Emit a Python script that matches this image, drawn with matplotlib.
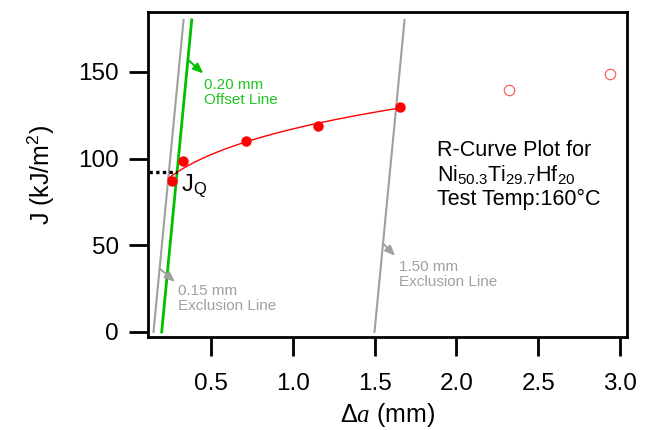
import numpy as np
import matplotlib
matplotlib.use("Agg")
import matplotlib.pyplot as plt

plt.rcParams['font.family'] = ['Liberation Sans', 'DejaVu Sans']
plt.rcParams['mathtext.fontset'] = 'custom'
plt.rcParams['mathtext.rm'] = 'Liberation Sans'
plt.rcParams['mathtext.it'] = 'Liberation Serif:italic'
plt.rcParams['mathtext.default'] = 'regular'

# R-curve data (crack extension in mm, J in kJ/m^2)
da_valid = [0.265, 0.332, 0.715, 1.153, 1.656]
J_valid = [87.0, 98.5, 110.0, 118.9, 129.5]
da_excl = [2.32, 2.94]
J_excl = [139.6, 148.7]

# construction lines: slope M (blunting), offsets in mm
M_blunt = 980.0
offset_excl_lo = 0.15
offset_line = 0.20
offset_excl_hi = 1.50
J_line_top = 180.0

# power-law fit J = C * da^n on the valid points
n_fit, lnC = np.polyfit(np.log(da_valid), np.log(J_valid), 1)
C_fit = np.exp(lnC)

def power_fit(x):
    return C_fit * x ** n_fit

def cross(offset):
    # intersection of the fit with a blunting line at the given offset
    lo, hi = offset + 1e-4, 3.0
    for _ in range(80):
        mid = 0.5 * (lo + hi)
        if power_fit(mid) - M_blunt * (mid - offset) < 0:
            hi = mid
        else:
            lo = mid
    return 0.5 * (lo + hi)

x_start = cross(offset_excl_lo)
x_end = cross(offset_excl_hi)
x_q = cross(offset_line)
J_q = power_fit(x_q)

fig = plt.figure(figsize=(6.46, 4.30), dpi=100)
ax = fig.add_axes([0.229, 0.216, 0.742, 0.756])

gray = '#a0a0a0'
green = '#00c000'
red = '#ff0000'

# blunting / exclusion lines
Jl = np.array([0.0, J_line_top])
ax.plot(offset_excl_lo + Jl / M_blunt, Jl, color=gray, lw=1.5, zorder=2)
ax.plot(offset_excl_hi + Jl / M_blunt, Jl, color=gray, lw=1.5, zorder=2)
ax.plot(offset_line + Jl / M_blunt, Jl, color=green, lw=2.0, zorder=3)

# fitted R-curve
xf = np.linspace(x_start, x_end, 200)
ax.plot(xf, power_fit(xf), color=red, lw=1.0, zorder=4)

ax.plot(da_valid, J_valid, 'o', color=red, ms=7.5, mec='none', zorder=5)
ax.plot(da_excl, J_excl, 'o', mfc='none', mec='#ff6060', mew=0.9, ms=7.5, zorder=5)

# J_Q marker
ax.plot([0.0, x_q], [J_q, J_q], color='black', lw=2.4, ls=(0, (1, 1)), zorder=4)
ax.text(0.318, J_q - 0.2, 'J$_Q$', fontsize=17, ha='left', va='top')

# annotations for the lines
arrow_kw = dict(arrowstyle='-|>,head_length=0.6,head_width=0.25', lw=1.4, shrinkA=0, shrinkB=0)
ax.annotate('', xy=(0.454, 149.1), xytext=(offset_line + 157.0 / M_blunt, 157.0),
            arrowprops=dict(color=green, **arrow_kw))
ax.text(0.458, 146.5, '0.20 mm\nOffset Line', color='#22c422', fontsize=11,
        ha='left', va='top', linespacing=1.1)

ax.annotate('', xy=(0.281, 28.9), xytext=(offset_excl_lo + 36.6 / M_blunt, 36.6),
            arrowprops=dict(color=gray, **arrow_kw))
ax.text(0.298, 27.8, '0.15 mm\nExclusion Line', color=gray, fontsize=11,
        ha='left', va='top', linespacing=1.1)

ax.annotate('', xy=(1.626, 43.9), xytext=(offset_excl_hi + 51.0 / M_blunt, 51.0),
            arrowprops=dict(color=gray, **arrow_kw))
ax.text(1.650, 41.3, '1.50 mm\nExclusion Line', color=gray, fontsize=11,
        ha='left', va='top', linespacing=1.1)

ax.text(1.881, 110.5, 'R-Curve Plot for\nNi$_{50.3}$Ti$_{29.7}$Hf$_{20}$\nTest Temp:160°C',
        fontsize=15.5, ha='left', va='top', linespacing=1.13)

ax.set_xlim(0.116, 3.044)
ax.set_ylim(-3.0, 184.5)
ax.set_xticks([0.5, 1.0, 1.5, 2.0, 2.5, 3.0])
ax.set_yticks([0, 50, 100, 150])
ax.set_xticklabels(['0.5', '1.0', '1.5', '2.0', '2.5', '3.0'])

for s in ax.spines.values():
    s.set_linewidth(2.0)
ax.tick_params(axis='both', direction='out', length=14, width=2.0, labelsize=17.5)
ax.tick_params(axis='x', pad=12)
ax.tick_params(axis='y', pad=7)

ax.set_xlabel('Δ$\\mathit{a}$ (mm)', fontsize=18, labelpad=4)
ax.set_ylabel('J (kJ/m$^2$)', fontsize=18, labelpad=15)

fig.savefig('out.png', dpi=100)
